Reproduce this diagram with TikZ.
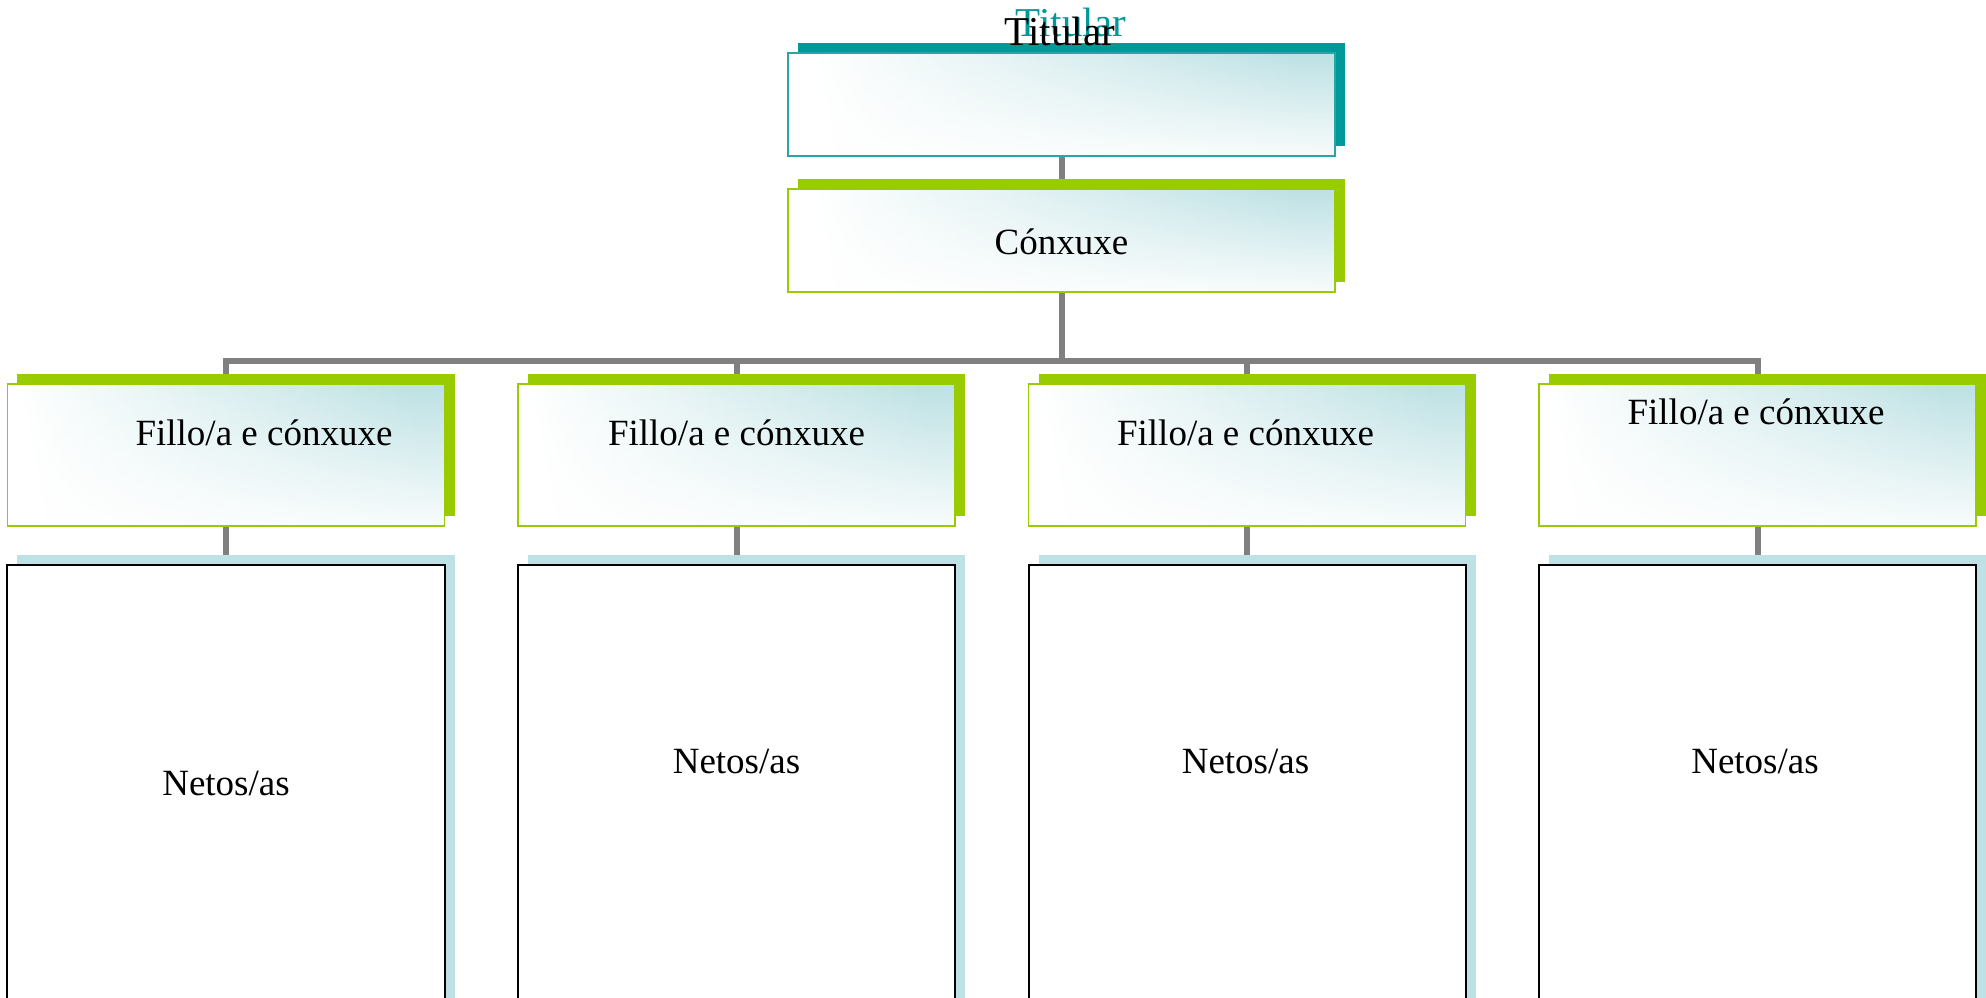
\documentclass[tikz,border=0pt]{standalone}
\usepackage{fontspec}
\setmainfont{Liberation Serif}
\usetikzlibrary{positioning, shadows, backgrounds, fadings}

\definecolor{tealdark}{RGB}{0,153,153}
\definecolor{tealline}{RGB}{38,166,166}
\definecolor{leafgreen}{RGB}{153,204,0}
\definecolor{paleblue}{RGB}{189,225,228}
\definecolor{linkgray}{RGB}{128,128,128}

\tikzfading[name=fadebottom, top color=transparent!100, middle color=transparent!80, bottom color=transparent!10]

\tikzset{
    panel/.style={left color=white, right color=paleblue, shading angle=100,
        inner sep=0pt, outer sep=0pt,
        postaction={fill=white, path fading=fadebottom},
        postaction={draw=#1, line width=0.75bp},
        drop shadow={shadow xshift=5bp, shadow yshift=5bp, fill=#1, opacity=1}},
    headbox/.style={panel=tealline, minimum width=273.5bp, minimum height=51.5bp,
        drop shadow={shadow xshift=5bp, shadow yshift=5bp, fill=tealdark, opacity=1}},
    spousebox/.style={panel=leafgreen, minimum width=273.5bp, minimum height=51.5bp},
    childbox/.style={panel=leafgreen, minimum width=218.5bp, minimum height=71bp},
    grandbox/.style={draw=black, line width=1bp, fill=white, inner sep=0pt, outer sep=0pt,
        minimum width=218.5bp, minimum height=222.5bp,
        drop shadow={shadow xshift=5bp, shadow yshift=5bp, fill=paleblue, opacity=1}},
    link/.style={draw=linkgray, line width=3bp},
    txt/.style={anchor=base, inner sep=0pt, font=\fontsize{18.5bp}{22bp}\selectfont},
}

\begin{document}
\begin{tikzpicture}[x=0.5bp, y=-0.5bp, node distance=16.5bp]
    \useasboundingbox (0,0) rectangle (1986,997);

    % titular e cónxuxe
    \node[headbox]                     (titular) at (1061.5,104.5) {};
    \node[spousebox, below=of titular] (conxuxe) {};
    \node[txt] (conxuxe-txt) at (1061.5,254) {Cónxuxe};
    \node[txt, text=tealdark, font=\fontsize{20.5bp}{24bp}\selectfont] (titular-sombra) at (1071,36.7) {Titular};
    \node[txt, font=\fontsize{20.5bp}{24bp}\selectfont]                (titular-txt)    at (1060,45.7) {Titular};

    % fillos/as
    \node[childbox]                          (fillo1) at (226,455) {};
    \node[childbox, right=36.75bp of fillo1] (fillo2) {};
    \node[childbox, right=36.75bp of fillo2] (fillo3) {};
    \node[childbox, right=36.75bp of fillo3] (fillo4) {};

    \node[txt] (fillo1-txt) at (264,445)    {Fillo/a e cónxuxe};
    \node[txt] (fillo2-txt) at (736.5,445)  {Fillo/a e cónxuxe};
    \node[txt] (fillo3-txt) at (1245.5,445) {Fillo/a e cónxuxe};
    \node[txt] (fillo4-txt) at (1756,424)   {Fillo/a e cónxuxe};

    % netos/as
    \node[grandbox, below=19.5bp of fillo1] (neto1) {};
    \node[grandbox, below=19.5bp of fillo2] (neto2) {};
    \node[grandbox, below=19.5bp of fillo3] (neto3) {};
    \node[grandbox, below=19.5bp of fillo4] (neto4) {};

    \node[txt] (neto1-txt) at (226,795)    {Netos/as};
    \node[txt] (neto2-txt) at (736.5,773)  {Netos/as};
    \node[txt] (neto3-txt) at (1245.5,773) {Netos/as};
    \node[txt] (neto4-txt) at (1755,773)   {Netos/as};

    % liñas por detrás das caixas
    \coordinate (barra) at (1061.5,360.5);
    \begin{scope}[on background layer]
        \draw[link] (titular.south) -- (conxuxe.north);
        \draw[link] (conxuxe.south) -- (barra);
        \draw[link] (fillo1.north) |- (barra) -| (fillo4.north);
        \draw[link] (fillo2.north) |- (barra);
        \draw[link] (fillo3.north) |- (barra);
        \draw[link] (fillo1.south) -- (neto1.north);
        \draw[link] (fillo2.south) -- (neto2.north);
        \draw[link] (fillo3.south) -- (neto3.north);
        \draw[link] (fillo4.south) -- (neto4.north);
    \end{scope}
\end{tikzpicture}
\end{document}
